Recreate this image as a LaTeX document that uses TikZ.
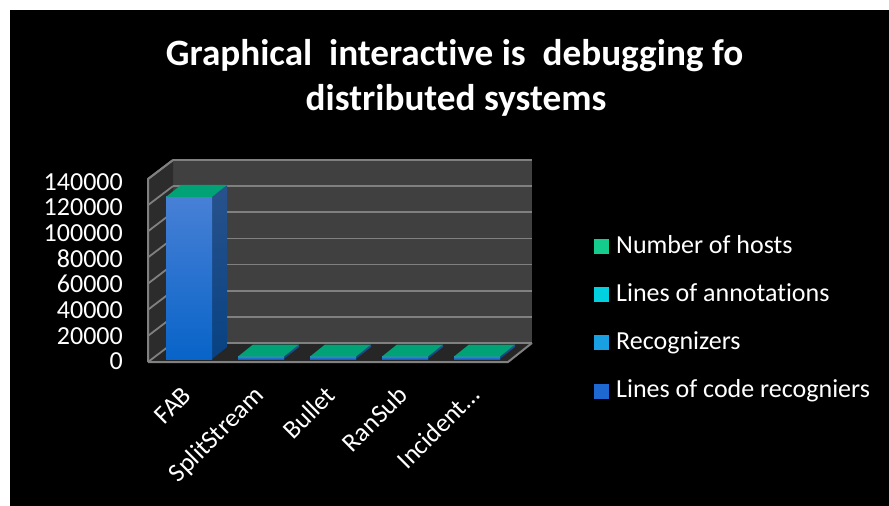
\documentclass[tikz,border=0pt]{standalone}
\usepackage{fontspec}
\setmainfont[Ligatures=NoCommon]{Carlito}
\definecolor{wallback}{RGB}{64,64,64}
\definecolor{wallside}{RGB}{44,44,44}
\definecolor{floorc}{RGB}{38,38,38}
\definecolor{gridgray}{RGB}{128,128,128}
\definecolor{barfronttop}{RGB}{72,128,214}
\definecolor{barfrontbot}{RGB}{8,100,200}
\definecolor{barsidetop}{RGB}{40,82,140}
\definecolor{barsidebot}{RGB}{8,66,130}
\definecolor{bartop}{RGB}{0,162,118}
\definecolor{leghosts}{RGB}{20,204,140}
\definecolor{legannot}{RGB}{0,208,224}
\definecolor{legrecog}{RGB}{24,160,226}
\definecolor{legcode}{RGB}{30,104,210}
\begin{document}
\begin{tikzpicture}[x=1pt,y=-1pt,
  gridln/.style={draw=gridgray, line width=1.8pt},
  edgeln/.style={draw=gridgray, line width=2pt},
  lbl/.style={text=white, font=\fontsize{26}{30}\selectfont, inner sep=0pt},
  ttl/.style={text=white, font=\bfseries\fontsize{37.2}{45}\selectfont, inner sep=0pt},
  legsq/.style={minimum width=15pt, minimum height=15pt, inner sep=0pt, draw=none}]
\useasboundingbox (0,0) rectangle (889,506);
\fill[white] (0,0) rectangle (889,506);
\fill[black] (10,10) rectangle (889,506);
% title
\node[ttl, anchor=base] (title1) at (454.5,65) {Graphical\ \ interactive is\ \ debugging fo};
\node[ttl, anchor=base] (title2) at (456,110.7) {distributed systems};
% walls
\fill[wallback] (173,160) rectangle (532,343);
\fill[wallside] (148,179) -- (173,160) -- (173,343) -- (148,362) -- cycle;
\fill[floorc] (148,362) -- (508,362) -- (532,343) -- (173,343) -- cycle;
\foreach \i in {0,...,7}{
  \pgfmathsetmacro{\yy}{160+\i*26.143}
  \draw[gridln] (173,\yy) -- (532,\yy);
  \draw[gridln] (148,\yy+19) -- (173,\yy);
}
\draw[edgeln] (148,362) -- (148,179) -- (173,160);
\draw[edgeln] (148,362) -- (508,362) -- (532,343);
% bars
\foreach \cx/\h in {184/162.1,256/2.5,328/2.5,400/2.5,472/2.5}{
  \pgfmathsetmacro{\L}{\cx-18}
  \pgfmathsetmacro{\R}{\cx+28}
  \pgfmathsetmacro{\T}{359-\h}
  \shade[top color=barsidetop, bottom color=barsidebot] (\R,\T) -- (\R+15,\T-12) -- (\R+15,347) -- (\R,359) -- cycle;
  \shade[top color=barfronttop, bottom color=barfrontbot] (\L,\T) rectangle (\R,359);
  \fill[bartop] (\L,\T) -- (\R,\T) -- (\R+15,\T-12) -- (\L+15,\T-12) -- cycle;
}
% y axis labels
\foreach \i/\t in {0/140000,1/120000,2/100000,3/80000,4/60000,5/40000,6/20000,7/0}{
  \node[lbl, anchor=base east] (y\i) at (123,190+\i*25.67) {\t};
}
% x axis labels
\foreach \cx/\t/\n in {184/FAB/fab,256/SplitStream/split,328/Bullet/bullet,400/RanSub/ransub,472/Incident…/incident}{
  \node[lbl, anchor=base east, rotate=45] (x\n) at (\cx+9,397) {\t};
}
% legend
\foreach \i/\c/\t in {0/leghosts/Number of hosts,1/legannot/Lines of annotations,2/legrecog/Recognizers,3/legcode/Lines of code recogniers}{
  \node[legsq, fill=\c] (sq\i) at (601,246.5+\i*48.2) {};
  \node[lbl, anchor=base west] (leg\i) at (616,253.3+\i*48.2) {\t};
}
\end{tikzpicture}
\end{document}
